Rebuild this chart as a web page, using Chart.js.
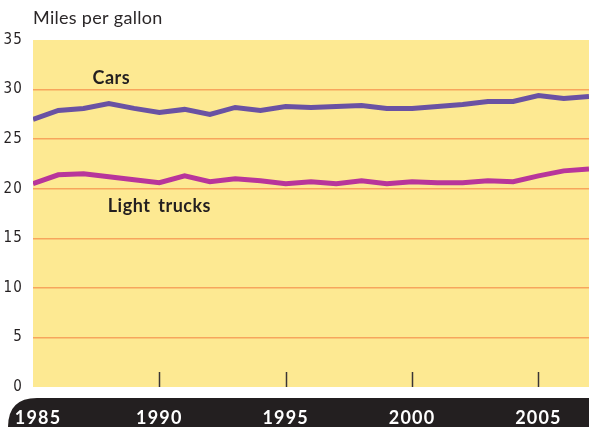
<!DOCTYPE html>
<html>
<head>
<meta charset="utf-8">
<script src="https://cdn.jsdelivr.net/npm/chart.js@4"></script>
<style>
  html, body { margin: 0; padding: 0; background: #fff; }
  #wrap { width: 589px; height: 427px; }
</style>
</head>
<body>
<div id="wrap"><canvas id="mpg" width="589" height="427"></canvas></div>
<script>
const years = [1985, 1986, 1987, 1988, 1989, 1990, 1991, 1992, 1993, 1994, 1995, 1996,
  1997, 1998, 1999, 2000, 2001, 2002, 2003, 2004, 2005, 2006, 2007];
const cars = [27.0, 27.9, 28.1, 28.6, 28.1, 27.7, 28.0, 27.5, 28.2, 27.9, 28.3, 28.2,
  28.3, 28.4, 28.1, 28.1, 28.3, 28.5, 28.8, 28.8, 29.4, 29.1, 29.3];
const trucks = [20.5, 21.4, 21.5, 21.2, 20.9, 20.6, 21.3, 20.7, 21.0, 20.8, 20.5, 20.7,
  20.5, 20.8, 20.5, 20.7, 20.6, 20.6, 20.8, 20.7, 21.3, 21.8, 22.0];
const yTicks = [0, 5, 10, 15, 20, 25, 30, 35];
const xTicks = [1985, 1990, 1995, 2000, 2005];

// series labels sit in data coordinates
const seriesLabels = [
  { text: 'Cars', x: 1988.1, y: 31.1 },
  { text: 'Light trucks', x: 1990.0, y: 18.2 }
];

const FONT = "Lato, 'Open Sans', sans-serif";
const INK = '#231f20';

const decor = {
  id: 'decor',
  beforeDraw(chart) {
    const { ctx, chartArea: a, width, height } = chart;
    ctx.save();
    // plot background
    ctx.fillStyle = '#fde992';
    ctx.fillRect(a.left, a.top, a.right - a.left, a.bottom - a.top);
    // black band under the axis
    const top = a.bottom + 11;
    const r = (height - top);
    ctx.fillStyle = INK;
    ctx.beginPath();
    ctx.moveTo(width, top);
    ctx.lineTo(8 + r, top);
    ctx.quadraticCurveTo(8, top, 8, height);
    ctx.lineTo(width, height);
    ctx.closePath();
    ctx.fill();
    ctx.restore();
    // wider tracking for the axis labels, as in the print original
    ctx.letterSpacing = '1.2px';
  },
  beforeDatasetsDraw(chart) {
    const { ctx, chartArea: a, scales } = chart;
    ctx.save();
    ctx.strokeStyle = '#3a3535';
    ctx.lineWidth = 1.5;
    xTicks.slice(1).forEach(v => {
      const px = Math.round(scales.x.getPixelForValue(v)) + 0.5;
      ctx.beginPath();
      ctx.moveTo(px, a.bottom - 15);
      ctx.lineTo(px, a.bottom);
      ctx.stroke();
    });
    ctx.restore();
  },
  afterDatasetsDraw(chart) {
    const { ctx, chartArea: a, scales } = chart;
    ctx.save();
    ctx.fillStyle = INK;
    ctx.font = "bold 18px " + FONT;
    ctx.letterSpacing = '0.5px';
    ctx.wordSpacing = '3px';
    ctx.textAlign = 'center';
    ctx.textBaseline = 'middle';
    seriesLabels.forEach(l => {
      ctx.fillText(l.text, scales.x.getPixelForValue(l.x), scales.y.getPixelForValue(l.y));
    });
    ctx.font = "18px " + FONT;
    ctx.letterSpacing = '0.3px';
    ctx.wordSpacing = '0px';
    ctx.textAlign = 'left';
    ctx.textBaseline = 'alphabetic';
    ctx.fillStyle = '#2b2728';
    ctx.fillText('Miles per gallon', a.left, 24);
    ctx.restore();
  }
};

new Chart(document.getElementById('mpg'), {
  type: 'line',
  data: {
    datasets: [
      {
        label: 'Cars',
        data: years.map((y, i) => ({ x: y, y: cars[i] })),
        borderColor: '#6a52a3',
        borderWidth: 5,
        pointRadius: 0,
        tension: 0
      },
      {
        label: 'Light trucks',
        data: years.map((y, i) => ({ x: y, y: trucks[i] })),
        borderColor: '#b8359b',
        borderWidth: 5,
        pointRadius: 0,
        tension: 0
      }
    ]
  },
  options: {
    responsive: false,
    animation: false,
    layout: { padding: { top: 40, left: 0, right: 0, bottom: 0 } },
    plugins: {
      legend: { display: false },
      tooltip: { enabled: false }
    },
    scales: {
      x: {
        type: 'linear',
        min: 1985,
        max: 2007,
        afterBuildTicks: s => { s.ticks = xTicks.map(v => ({ value: v })); },
        afterFit: s => { s.height = 40; s.paddingLeft = 0; s.paddingRight = 0; },
        grid: { display: false, drawTicks: false },
        border: { display: false },
        ticks: {
          color: '#ffffff',
          font: { family: FONT, size: 18, weight: 'bold' },
          padding: 20,
          maxRotation: 0,
          autoSkip: false,
          // first label is nudged clear of the band's rounded end
          callback: v => (v === 1985 ? '\u2002' + v : String(v))
        }
      },
      y: {
        min: 0,
        max: 35,
        afterBuildTicks: s => { s.ticks = yTicks.map(v => ({ value: v })); },
        afterFit: s => { s.width = 33; },
        grid: {
          drawTicks: false,
          lineWidth: 1.5,
          color: c => (c.tick && (c.tick.value === 0 || c.tick.value === 35)) ? 'rgba(0,0,0,0)' : '#f7a55c'
        },
        border: { display: false },
        ticks: {
          color: INK,
          font: { family: "'Liberation Sans Narrow', 'DejaVu Sans Condensed', sans-serif", size: 15 },
          padding: 10
        }
      }
    }
  },
  plugins: [decor]
});
</script>
</body>
</html>
